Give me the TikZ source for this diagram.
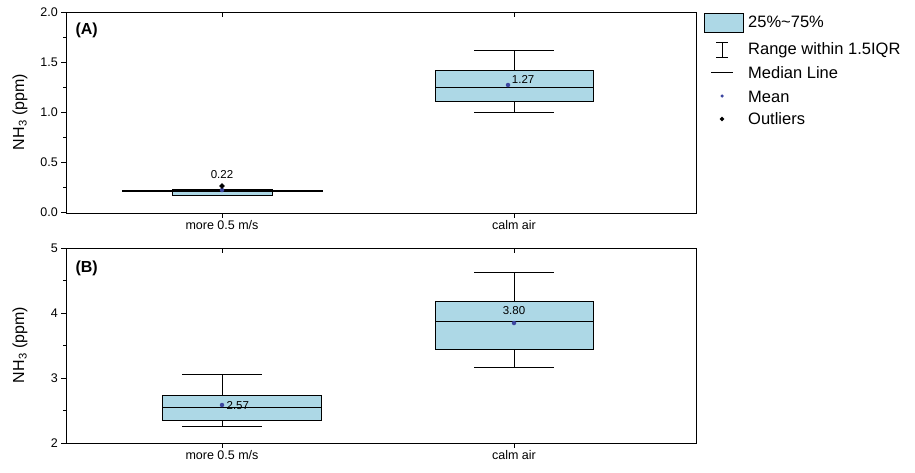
\documentclass[tikz,border=0pt]{standalone}
\usepackage{fontspec}
\setmainfont{Liberation Sans}
\usetikzlibrary{positioning}
\definecolor{boxfill}{RGB}{173,216,230}
\definecolor{meancolor}{RGB}{60,70,160}
\tikzset{
	frame/.style={draw, thick},
	iqrbox/.style={draw, fill=boxfill, thin},
	whisker/.style={draw, thin},
	median/.style={draw, semithick},
	meandot/.style={circle, fill=meancolor, inner sep=0, minimum size=4.5pt},
	outlier/.style={diamond, fill=black, inner sep=0, minimum size=6pt},
	ticklabel/.style={font=\fontsize{12.5}{14}\selectfont, inner sep=2pt},
	valuelabel/.style={font=\fontsize{11.5}{13}\selectfont, inner sep=1pt},
	axislabel/.style={rotate=90, font=\fontsize{16}{18}\selectfont},
	paneltag/.style={font=\fontsize{16}{18}\selectfont\bfseries, anchor=west},
	legendtext/.style={font=\fontsize{16.5}{18}\selectfont, anchor=west, inner sep=0}
}
\usetikzlibrary{shapes.geometric}
\begin{document}
\begin{tikzpicture}[x=1pt, y=-1pt]
	\useasboundingbox (0,0) rectangle (915,472);
	
	% panel (A)
	\draw[frame] (66,12) rectangle (696,213);
	\foreach \v/\y in {0.0/212,0.5/162,1.0/112,1.5/62,2.0/12}{
		\draw (66,\y) -- (61,\y);
		\node[ticklabel, anchor=east] at (60,\y) {\v};
	}
	\foreach \y in {187,137,87,37} \draw (66,\y) -- (63,\y);
	\foreach \x in {222,514} \draw (\x,213) -- (\x,218) (\x,12) -- (\x,17);
	\node[ticklabel, below] (alow) at (222,218) {more 0.5 m/s};
	\node[ticklabel, below] (acalm) at (514,218) {calm air};
	\node[paneltag] (atag) at (72,30) {(A)};
	\node[axislabel] (ayl) at (20,112) {NH\textsubscript{3} (ppm)};
	
	% more 0.5 m/s
	\draw[iqrbox] (172,189) rectangle (272,195);
	\draw[ultra thick] (122,191) -- (323,191);
	\node[meandot] (amean1) at (222,190) {};
	\node[outlier] (aout1) at (222,186) {};
	\node[valuelabel] (alab1) at (222,175) {0.22};
	
	% calm air
	\draw[whisker] (514,50) -- (514,70) (474,50) -- (554,50);
	\draw[whisker] (514,101) -- (514,112) (474,112) -- (554,112);
	\draw[iqrbox] (435,70) rectangle (593,101);
	\draw[median] (435,87) -- (593,87);
	\node[meandot] (amean2) at (508,85) {};
	\node[valuelabel, above right=-1pt and 1pt of amean2] (alab2) {1.27};
	
	% panel (B)
	\draw[frame] (66,248) rectangle (696,443);
	\foreach \v/\y in {2/443,3/378,4/313,5/248}{
		\draw (66,\y) -- (61,\y);
		\node[ticklabel, anchor=east] at (60,\y) {\v};
	}
	\foreach \y in {410.5,345.5,280.5} \draw (66,\y) -- (63,\y);
	\foreach \x in {222,514} \draw (\x,443) -- (\x,448) (\x,248) -- (\x,253);
	\node[ticklabel, below] (blow) at (222,448) {more 0.5 m/s};
	\node[ticklabel, below] (bcalm) at (514,448) {calm air};
	\node[paneltag] (btag) at (72,268) {(B)};
	\node[axislabel] (byl) at (20,345) {NH\textsubscript{3} (ppm)};
	
	% more 0.5 m/s
	\draw[whisker] (222,374) -- (222,395) (182,374) -- (262,374);
	\draw[whisker] (222,420) -- (222,426) (182,426) -- (262,426);
	\draw[iqrbox] (162,395) rectangle (321,420);
	\draw[median] (162,407) -- (321,407);
	\node[meandot] (bmean1) at (222,405) {};
	\node[valuelabel, right=1pt of bmean1, yshift=-1pt] (blab1) {2.57};
	
	% calm air
	\draw[whisker] (514,272) -- (514,301) (474,272) -- (554,272);
	\draw[whisker] (514,349) -- (514,367) (474,367) -- (554,367);
	\draw[iqrbox] (435,301) rectangle (593,349);
	\draw[median] (435,321) -- (593,321);
	\node[meandot] (bmean2) at (514,323) {};
	\node[valuelabel] (blab2) at (514,311) {3.80};
	
	% legend
	\draw[iqrbox, semithick] (704,13) rectangle (743,32);
	\node[legendtext] (l1) at (748,22) {25\%\textasciitilde75\%};
	\draw (722,42) -- (722,57) (716,42) -- (728,42) (716,57) -- (728,57);
	\node[legendtext] (l2) at (748,50) {Range within 1.5IQR};
	\draw[semithick] (711,72) -- (733,72);
	\node[legendtext] (l3) at (748,73) {Median Line};
	\node[meandot, minimum size=3.5pt] (l4dot) at (722,96) {};
	\node[legendtext] (l4) at (748,97) {Mean};
	\node[outlier, minimum size=5pt] (l5dot) at (722,119) {};
	\node[legendtext] (l5) at (748,119) {Outliers};
\end{tikzpicture}
\end{document}
